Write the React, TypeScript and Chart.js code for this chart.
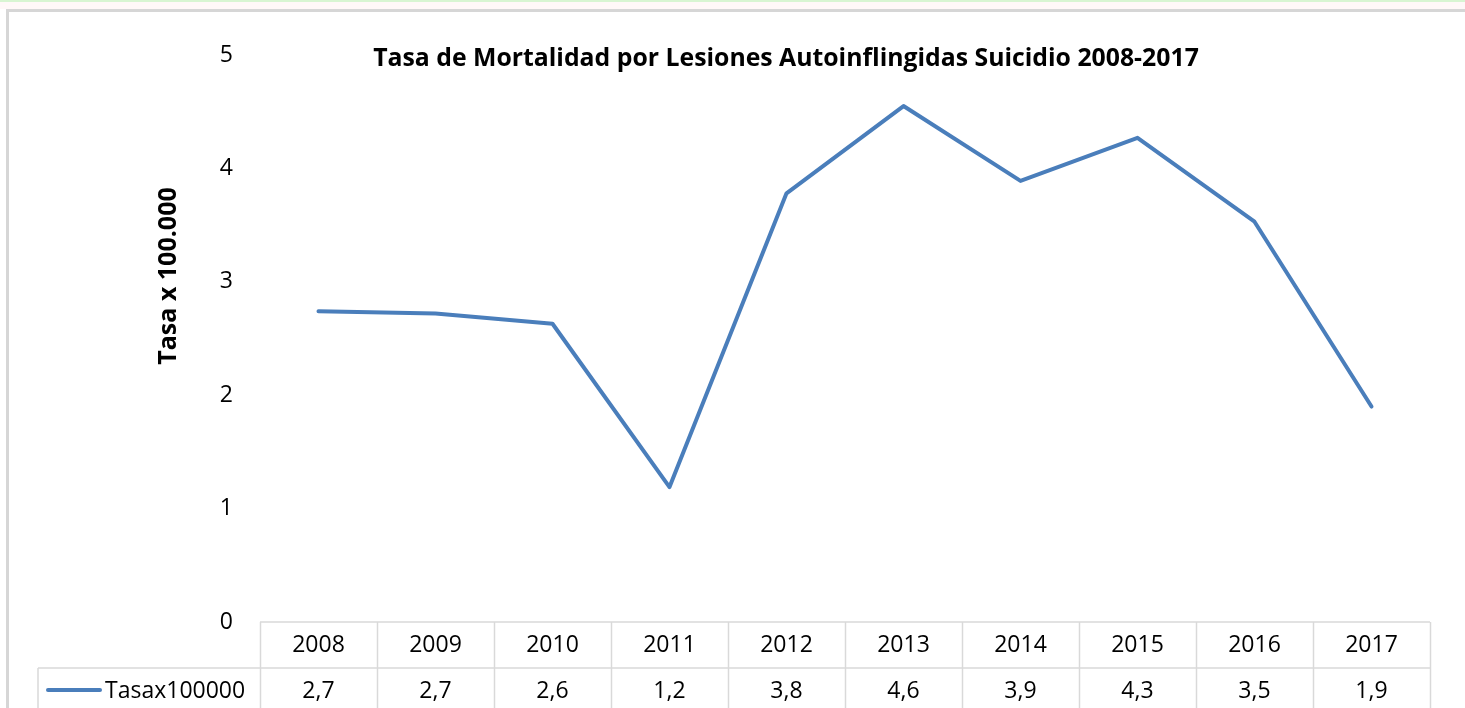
import React, { useEffect, useRef } from "react";
import { Chart, registerables } from "chart.js";

Chart.register(...registerables);

const years = ["2008", "2009", "2010", "2011", "2012", "2013", "2014", "2015", "2016", "2017"];
const tasa = [2.74, 2.72, 2.63, 1.19, 3.78, 4.55, 3.89, 4.27, 3.53, 1.9];
const tableValues = ["2,7", "2,7", "2,6", "1,2", "3,8", "4,6", "3,9", "4,3", "3,5", "1,9"];
const seriesName = "Tasax100000";
const chartTitle = "Tasa de Mortalidad por Lesiones Autoinflingidas Suicidio 2008-2017";
const yAxisTitle = "Tasa x 100.000";
const yMin = 0;
const yMax = 5;
const yStep = 1;

const LINE_COLOR = "#4A7EBB";
const GRID_COLOR = "#d9d9d9";
const FONT = "'Open Sans', 'DejaVu Sans', sans-serif";

const decorPlugin = {
  id: "decor",
  beforeDraw(chart: any) {
    const ctx = chart.ctx;
    const W = chart.width;
    const H = chart.height;
    ctx.save();
    ctx.fillStyle = "#ffffff";
    ctx.fillRect(0, 0, W, H);
    ctx.fillStyle = "#d8f5d2";
    ctx.fillRect(0, 0, W, 2);
    ctx.fillStyle = "#fff8f8";
    ctx.fillRect(0, 2, W, 7);
    ctx.fillStyle = "#d6d6d6";
    ctx.fillRect(6, 9, W - 6, 3);
    ctx.fillRect(6, 9, 3, H - 9);
    ctx.restore();
  },
  afterDraw(chart: any) {
    const ctx = chart.ctx;
    const ca = chart.chartArea;
    const xs = chart.scales.x;
    const n = years.length;
    const cw = (ca.right - ca.left) / n;
    ctx.save();

    // title
    ctx.fillStyle = "#000";
    ctx.font = `bold 24.8px ${FONT}`;
    ctx.textAlign = "center";
    ctx.textBaseline = "alphabetic";
    ctx.fillText(chartTitle, 786, 66);

    // y axis title
    ctx.save();
    ctx.translate(176, 276);
    ctx.rotate(-Math.PI / 2);
    ctx.font = `bold 25px ${FONT}`;
    ctx.textAlign = "center";
    ctx.textBaseline = "alphabetic";
    ctx.fillText(yAxisTitle, 0, 0);
    ctx.restore();

    // data table
    const top = ca.bottom;
    const mid = top + 46;
    const bot = mid + 46;
    const leftCol = 38;
    ctx.strokeStyle = GRID_COLOR;
    ctx.lineWidth = 1.5;
    ctx.beginPath();
    ctx.moveTo(ca.left, top);
    ctx.lineTo(ca.right, top);
    ctx.moveTo(leftCol, mid);
    ctx.lineTo(ca.right, mid);
    ctx.moveTo(leftCol, mid);
    ctx.lineTo(leftCol, bot);
    for (let i = 0; i <= n; i++) {
      const x = Math.round(ca.left + i * cw) + 0.5;
      ctx.moveTo(x, top);
      ctx.lineTo(x, bot);
    }
    ctx.stroke();

    ctx.fillStyle = "#000";
    ctx.font = `23px ${FONT}`;
    ctx.textAlign = "center";
    ctx.textBaseline = "middle";
    for (let i = 0; i < n; i++) {
      const x = xs.getPixelForValue(i);
      ctx.fillText(years[i], x, (top + mid) / 2);
      ctx.fillText(tableValues[i], x, (mid + bot) / 2);
    }

    // legend key
    ctx.strokeStyle = LINE_COLOR;
    ctx.lineWidth = 4;
    ctx.lineCap = "round";
    ctx.beginPath();
    ctx.moveTo(48, (mid + bot) / 2 - 1);
    ctx.lineTo(100, (mid + bot) / 2 - 1);
    ctx.stroke();
    ctx.textAlign = "left";
    ctx.fillText(seriesName, 105, (mid + bot) / 2);

    ctx.restore();
  },
};

export default function App() {
  const ref = useRef<HTMLCanvasElement | null>(null);

  useEffect(() => {
    document.body.style.margin = "0";
    document.body.style.overflow = "hidden";
    if (!ref.current) return;
    const chart = new Chart(ref.current, {
      type: "line",
      data: {
        labels: years,
        datasets: [
          {
            label: seriesName,
            data: tasa,
            borderColor: LINE_COLOR,
            backgroundColor: LINE_COLOR,
            borderWidth: 4,
            pointRadius: 0,
            tension: 0,
            borderJoinStyle: "round",
            borderCapStyle: "round",
          },
        ],
      },
      options: {
        animation: false,
        responsive: false,
        maintainAspectRatio: false,
        layout: { padding: { left: 0, top: 55, right: 35, bottom: 86 } },
        plugins: {
          legend: { display: false },
          tooltip: { enabled: false },
          title: { display: false },
        },
        scales: {
          x: {
            display: false,
            offset: true,
          },
          y: {
            min: yMin,
            max: yMax,
            border: { display: false },
            grid: { display: false, drawTicks: false },
            ticks: {
              stepSize: yStep,
              padding: 27,
              color: "#000",
              font: { family: FONT, size: 23 },
            },
            afterFit: (scale: any) => {
              scale.width = 260;
            },
          },
        },
      },
      plugins: [decorPlugin],
    });
    return () => chart.destroy();
  }, []);

  return (
    <div style={{ position: "fixed", left: 0, top: 0, width: 1465, height: 708 }}>
      <canvas ref={ref} width={1465} height={708} style={{ width: 1465, height: 708, display: "block" }} />
    </div>
  );
}
